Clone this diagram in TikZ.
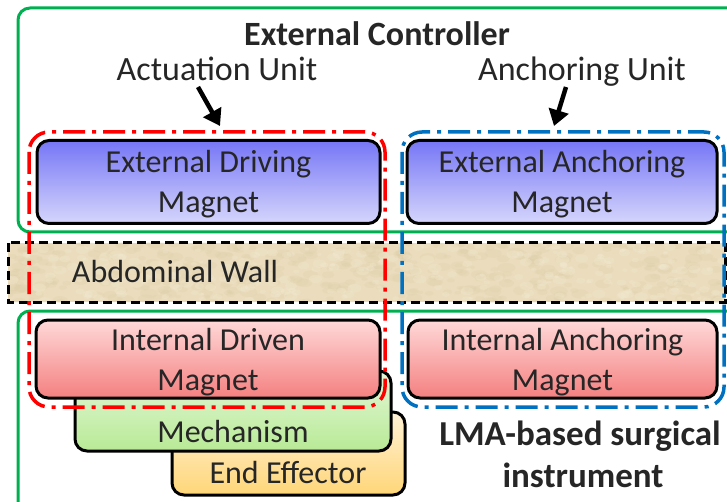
\documentclass[tikz,border=0pt]{standalone}
\usepackage{fontspec}
\setmainfont{Carlito}
\usetikzlibrary{arrows.meta}
\definecolor{frameGreen}{RGB}{0,176,80}
\definecolor{txt}{RGB}{38,38,38}
\definecolor{unitRed}{RGB}{255,0,0}
\definecolor{unitBlue}{RGB}{0,112,192}
\definecolor{wallBase}{RGB}{234,220,188}
\definecolor{wallDark}{RGB}{214,196,155}
\definecolor{wallLight}{RGB}{245,237,215}
\definecolor{extTop}{RGB}{118,118,246}
\definecolor{extBot}{RGB}{214,214,252}
\definecolor{intTop}{RGB}{255,216,216}
\definecolor{intBot}{RGB}{244,128,128}
\definecolor{mechTop}{RGB}{228,247,216}
\definecolor{mechBot}{RGB}{184,234,150}
\definecolor{endTop}{RGB}{255,242,214}
\definecolor{endBot}{RGB}{255,214,120}
\tikzset{
  frame/.style={draw=frameGreen, line width=3pt, rounded corners=12pt},
  block/.style={draw=black, line width=3pt, rounded corners=12pt, inner sep=0pt,
    text=txt, align=center, font=\fontsize{32}{39.5}\selectfont},
  extmag/.style={block, top color=extTop, bottom color=extBot, text height=61pt, text depth=0pt},
  intmag/.style={block, top color=intTop, bottom color=intBot, text height=62pt, text depth=0pt},
  unitbox/.style={line width=3.5pt, rounded corners=20pt,
    dash pattern=on 22pt off 7pt on 4pt off 7pt},
  walledge/.style={draw=black, line width=3pt, dash pattern=on 9pt off 5pt},
  lbl/.style={text=txt, inner sep=0pt, anchor=base, font=\fontsize{34}{40}\selectfont},
  boldlbl/.style={text=txt, inner sep=0pt, anchor=base, font=\fontsize{34}{40}\selectfont\bfseries},
  pointer/.style={line width=4.5pt, -{Triangle[length=16pt, width=20pt]}}
}
\begin{document}
\begin{tikzpicture}[x=1pt, y=-1pt]
\useasboundingbox (0,0) rectangle (727,502);
\begin{scope}
\clip (0,0) rectangle (727,502);

% green frames of the two sub-systems
\draw[frame] (18,8) rectangle (770,232);
\draw[frame] (18,311) rectangle (770,540);

% abdominal wall with a fine mottled texture
\begin{scope}
  \clip (8,243) rectangle (725,302);
  \fill[wallBase] (8,243) rectangle (725,302);
  \pgfmathsetseed{11}
  \foreach \i in {1,...,420}{
    \pgfmathsetmacro{\px}{8+717*rnd}
    \pgfmathsetmacro{\py}{243+59*rnd}
    \pgfmathsetmacro{\pr}{2+4*rnd}
    \fill[wallDark, opacity=0.12] (\px,\py) ellipse ({\pr*1.5pt} and {\pr*0.8pt});
  }
  \foreach \i in {1,...,300}{
    \pgfmathsetmacro{\px}{8+717*rnd}
    \pgfmathsetmacro{\py}{243+59*rnd}
    \pgfmathsetmacro{\pr}{1.5+3.5*rnd}
    \fill[wallLight, opacity=0.25] (\px,\py) ellipse ({\pr*1.4pt} and {\pr*0.9pt});
  }
\end{scope}
\draw[walledge] (8,243) rectangle (725,302);
\node[lbl, font=\fontsize{32}{40}\selectfont] (wall) at (175,283) {Abdominal Wall};

% external magnets
\node[extmag, minimum width=343pt, minimum height=83pt] (edm) at (208.5,182) {External Driving\\Magnet};
\node[extmag, minimum width=310pt, minimum height=83pt] (eam) at (562,182) {External Anchoring\\Magnet};

% internal stack of the instrument
\node[block, top color=endTop, bottom color=endBot, minimum width=233pt, minimum height=83pt] (endeff) at (288.5,453.5) {};
\node[lbl, font=\fontsize{32}{40}\selectfont] (endtxt) at (288,483) {End Effector};
\node[block, top color=mechTop, bottom color=mechBot, minimum width=316pt, minimum height=80pt] (mech) at (233,411) {};
\node[lbl, font=\fontsize{32}{40}\selectfont] (mechtxt) at (233,442) {Mechanism};
\node[intmag, minimum width=344pt, minimum height=78pt] (idm) at (208,359) {Internal Driven\\Magnet};
\node[intmag, minimum width=309pt, minimum height=78pt] (iam) at (562.5,359) {Internal Anchoring\\Magnet};

% actuation and anchoring units
\draw[unitbox, draw=unitRed] (29,132) rectangle (385,407);
\draw[unitbox, draw=unitBlue] (402,132) rectangle (724,407);

% labels
\node[boldlbl] (ctrl) at (377,46) {External Controller};
\node[lbl] (act) at (217,81) {Actuation Unit};
\node[lbl] (anc) at (582,81) {Anchoring Unit};
\node[boldlbl, font=\fontsize{35}{40}\selectfont\bfseries] (lma1) at (580,445) {LMA-based surgical};
\node[boldlbl, font=\fontsize{35}{40}\selectfont\bfseries] (lma2) at (583,487) {instrument};

% pointers from the unit labels
\coordinate (actTail) at (198,87);
\coordinate (actTip) at (220,126);
\coordinate (ancTail) at (566,87);
\coordinate (ancTip) at (554,126);
\draw[pointer] (actTail) -- (actTip);
\draw[pointer] (ancTail) -- (ancTip);
\end{scope}
\end{tikzpicture}
\end{document}
